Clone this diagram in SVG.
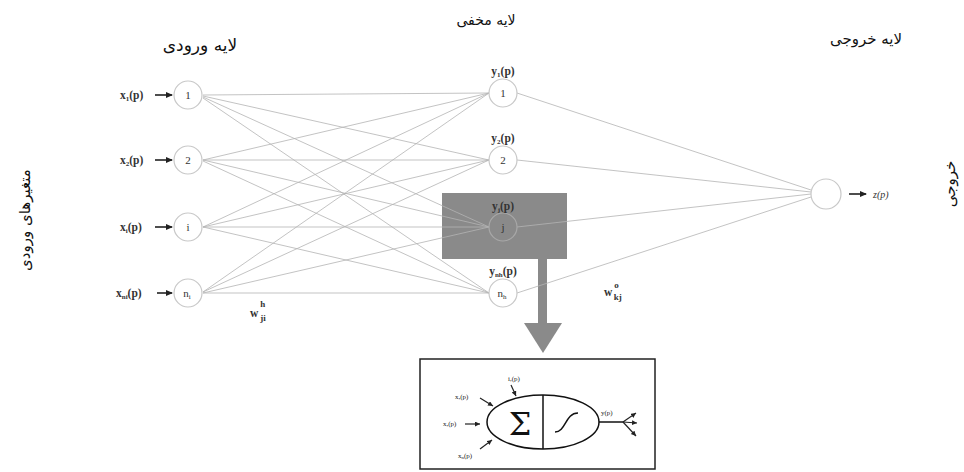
<svg xmlns="http://www.w3.org/2000/svg" width="964" height="472" viewBox="0 0 964 472">
<defs>
<marker id="ah" markerWidth="8" markerHeight="8" refX="6" refY="3" orient="auto" markerUnits="userSpaceOnUse"><path d="M0,0 L7,3 L0,6 z" fill="#222"/></marker>
<marker id="ahs" markerWidth="6" markerHeight="6" refX="5" refY="2.5" orient="auto" markerUnits="userSpaceOnUse"><path d="M0,0 L5,2.5 L0,5 z" fill="#222"/></marker>
</defs>
<style>
.fa{font-family:"DejaVu Sans","Noto Sans",sans-serif;fill:#111}
.lbl{font-family:"Liberation Serif",serif;font-weight:bold;fill:#333;font-size:11.5px}
.nd{fill:#fff;stroke:#c8c8c8;stroke-width:1.2}
.nt{font-family:"Liberation Serif",serif;fill:#333;font-size:11px;text-anchor:middle}
.cn{stroke:#b4b4b4;stroke-width:0.8;fill:none}
.ar{stroke:#222;stroke-width:1.6;fill:none}
.bk{stroke:#111;stroke-width:1.5;fill:none}
.sm{font-family:"Liberation Serif",serif;fill:#222;font-size:7px}
</style>
<rect width="964" height="472" fill="#fff"/>

<!-- titles -->
<text class="fa" x="200" y="51" font-size="17" text-anchor="middle">لایه ورودی</text>
<text class="fa" x="486" y="25" font-size="14" text-anchor="middle">لایه مخفی</text>
<text class="fa" x="866" y="44" font-size="15" text-anchor="middle">لایه خروجی</text>
<text class="fa" font-size="15" text-anchor="middle" transform="translate(30,220) rotate(-90)">متغیرهای ورودی</text>
<text class="fa" font-size="15" text-anchor="middle" transform="translate(955,184) rotate(-90)">خروجی</text>

<!-- highlight box and down arrow -->
<rect x="442" y="193" width="125" height="66" fill="#8a8a8a"/>
<rect x="538" y="259" width="9" height="64" fill="#8a8a8a"/>
<polygon points="524,323 562,323 543,353" fill="#8a8a8a"/>

<!-- connectors -->
<g id="connectors">
<g class="cn">
<line x1="203" y1="95" x2="489" y2="93"/><line x1="203" y1="96" x2="489" y2="160"/><line x1="203" y1="97" x2="489" y2="227"/><line x1="203" y1="98" x2="489" y2="293"/>
<line x1="203" y1="160" x2="489" y2="93"/><line x1="203" y1="160" x2="489" y2="160"/><line x1="203" y1="160" x2="489" y2="227"/><line x1="203" y1="161" x2="489" y2="293"/>
<line x1="203" y1="227" x2="489" y2="93"/><line x1="203" y1="227" x2="489" y2="160"/><line x1="203" y1="227" x2="489" y2="227"/><line x1="203" y1="227" x2="489" y2="293"/>
<line x1="203" y1="292" x2="489" y2="93"/><line x1="203" y1="292" x2="489" y2="160"/><line x1="203" y1="293" x2="489" y2="227"/><line x1="203" y1="293" x2="489" y2="293"/>
<line x1="517" y1="93" x2="811" y2="190"/><line x1="517" y1="160" x2="811" y2="192"/><line x1="517" y1="227" x2="811" y2="194"/><line x1="517" y1="293" x2="811" y2="197"/>
</g>
<line class="ar" x1="155" y1="95" x2="172" y2="95" marker-end="url(#ah)"/>
<line class="ar" x1="155" y1="160" x2="172" y2="160" marker-end="url(#ah)"/>
<line class="ar" x1="155" y1="227" x2="172" y2="227" marker-end="url(#ah)"/>
<line class="ar" x1="157" y1="293" x2="172" y2="293" marker-end="url(#ah)"/>
<line class="ar" x1="849" y1="194" x2="866" y2="194" marker-end="url(#ah)"/>
</g>

<!-- input nodes -->
<g id="in1"><circle class="nd" cx="188" cy="95" r="14"/><text class="nt" x="188" y="99">1</text><text class="lbl" x="120" y="99">x<tspan font-size="7" dy="2">1</tspan><tspan dy="-2">(p)</tspan></text></g>
<g id="in2"><circle class="nd" cx="188" cy="160" r="14"/><text class="nt" x="188" y="164">2</text><text class="lbl" x="120" y="164">x<tspan font-size="7" dy="2">2</tspan><tspan dy="-2">(p)</tspan></text></g>
<g id="ini"><circle class="nd" cx="188" cy="227" r="14"/><text class="nt" x="188" y="231">i</text><text class="lbl" x="120" y="231">x<tspan font-size="7" dy="2">i</tspan><tspan dy="-2">(p)</tspan></text></g>
<g id="inn"><circle class="nd" cx="188" cy="293" r="14"/><text class="nt" x="187" y="297">n<tspan font-size="7" dy="2">i</tspan></text><text class="lbl" x="116" y="297">x<tspan font-size="7" dy="2">ni</tspan><tspan dy="-2">(p)</tspan></text></g>

<!-- hidden nodes -->
<g id="h1"><circle class="nd" cx="503" cy="93" r="14"/><text class="nt" x="503" y="97">1</text><text class="lbl" x="503" y="75" text-anchor="middle">y<tspan font-size="7" dy="2">1</tspan><tspan dy="-2">(p)</tspan></text></g>
<g id="h2"><circle class="nd" cx="503" cy="160" r="14"/><text class="nt" x="503" y="164">2</text><text class="lbl" x="503" y="142" text-anchor="middle">y<tspan font-size="7" dy="2">2</tspan><tspan dy="-2">(p)</tspan></text></g>
<g id="hj"><circle cx="503" cy="227" r="14" fill="none" stroke="#a8a8a8" stroke-width="1.2"/><text class="nt" x="503" y="231">j</text><text class="lbl" x="503" y="210" text-anchor="middle">y<tspan font-size="7" dy="2">j</tspan><tspan dy="-2">(p)</tspan></text></g>
<g id="hn"><circle class="nd" cx="503" cy="293" r="14"/><text class="nt" x="502" y="297">n<tspan font-size="7" dy="2">h</tspan></text><text class="lbl" x="503" y="275" text-anchor="middle">y<tspan font-size="7" dy="2">nh</tspan><tspan dy="-2">(p)</tspan></text></g>

<!-- output node -->
<g id="out"><circle class="nd" cx="826" cy="194" r="15"/><text x="873" y="198" font-family="Liberation Serif,serif" font-style="italic" font-size="10" fill="#333">z(p)</text></g>

<!-- weight labels -->
<text class="lbl" x="250" y="317" font-size="14">w<tspan font-size="9" dy="-10" dx="2">h</tspan><tspan font-size="9" dy="14" dx="-5">ji</tspan></text>
<text class="lbl" x="604" y="296" font-size="14">w<tspan font-size="9" dy="-8" dx="2">o</tspan><tspan font-size="9" dy="12" dx="-5">kj</tspan></text>

<!-- neuron detail panel -->
<g id="detail">
<rect x="420" y="359" width="235" height="110" fill="#fff" stroke="#222" stroke-width="1.5"/>
<ellipse class="bk" cx="543" cy="422" rx="56" ry="27"/>
<line class="bk" x1="543" y1="395" x2="543" y2="449"/>
<text x="520" y="435" font-family="DejaVu Serif,serif" font-size="32" text-anchor="middle" fill="#111">Σ</text>
<path class="bk" d="M555,432 C566,432 565,413 578,413"/>
<line class="bk" x1="599" y1="422" x2="623" y2="422"/>
<line stroke="#222" stroke-width="1.2" x1="623" y1="422" x2="636" y2="413" marker-end="url(#ahs)"/>
<line stroke="#222" stroke-width="1.2" x1="623" y1="422" x2="637" y2="423" marker-end="url(#ahs)"/>
<line stroke="#222" stroke-width="1.2" x1="623" y1="422" x2="636" y2="436" marker-end="url(#ahs)"/>
<text class="sm" x="601" y="415">y(p)</text>
<text class="sm" x="508" y="381">i,(p)</text>
<line stroke="#222" stroke-width="1.2" x1="511" y1="385" x2="516" y2="396" marker-end="url(#ahs)"/>
<text class="sm" x="455" y="399">x,(p)</text>
<line stroke="#222" stroke-width="1.2" x1="480" y1="398" x2="493" y2="406" marker-end="url(#ahs)"/>
<text class="sm" x="443" y="426">x,(p)</text>
<line stroke="#222" stroke-width="1.2" x1="465" y1="424" x2="480" y2="424" marker-end="url(#ahs)"/>
<text class="sm" x="458" y="458">x<tspan font-size="5" dy="1">n</tspan><tspan dy="-1">(p)</tspan></text>
<line stroke="#222" stroke-width="1.2" x1="480" y1="449" x2="492" y2="440" marker-end="url(#ahs)"/>
</g>
</svg>
